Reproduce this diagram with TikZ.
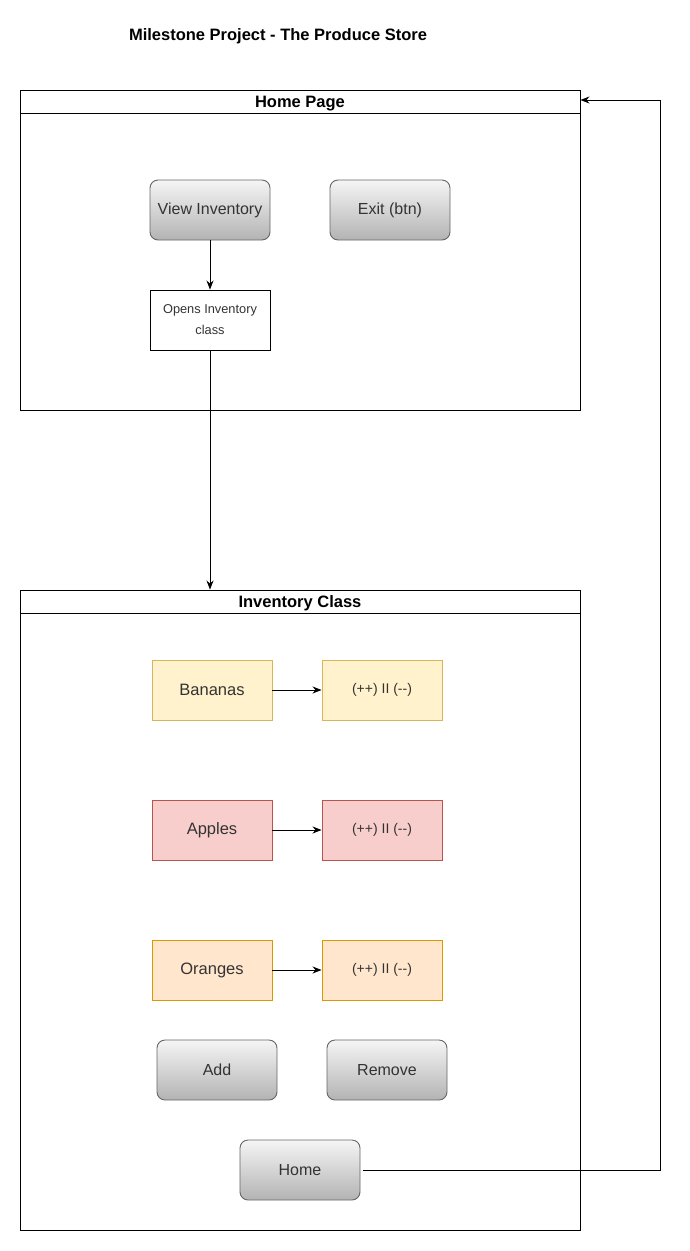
\documentclass[tikz,border=0pt]{standalone}
\usepackage{fontspec}
\setmainfont{Liberation Sans}
\usetikzlibrary{arrows.meta}

\definecolor{btnTop}{HTML}{F5F5F5}
\definecolor{btnBot}{HTML}{B3B3B3}
\definecolor{btnLine}{HTML}{666666}
\definecolor{txtGray}{HTML}{333333}
\definecolor{yelFill}{HTML}{FFF2CC}
\definecolor{yelLine}{HTML}{D6B656}
\definecolor{redFill}{HTML}{F8CECC}
\definecolor{redLine}{HTML}{B85450}
\definecolor{orgFill}{HTML}{FFE6CC}
\definecolor{orgLine}{HTML}{D79B00}

\begin{document}
\begin{tikzpicture}[x = 1pt, y = -1pt, line width = 0.9pt,
	btn/.style = {draw = btnLine, rounded corners = 8pt, top color = btnTop, bottom color = btnBot,
		minimum width = 120pt, minimum height = 60pt, text = txtGray, font = \fontsize{16}{19}\selectfont},
	plain/.style = {draw, minimum width = 120pt, minimum height = 60pt, align = center,
		font = \fontsize{12.8}{21}\selectfont, text = txtGray},
	fruit/.style = {draw = #1Line, fill = #1Fill, minimum width = 120pt, minimum height = 60pt,
		font = \fontsize{16.5}{19}\selectfont, text = txtGray},
	count/.style = {fruit = #1, font = \fontsize{14}{17}\selectfont},
	header/.style = {draw, minimum width = 560pt, minimum height = 23pt, inner sep = 0pt,
		text height = 12pt, text depth = 0pt, font = \bfseries\fontsize{16.5}{19}\selectfont},
	body/.style = {draw, minimum width = 560pt, anchor = north, inner sep = 0pt},
	arr/.style = {-{Stealth[length = 9pt, width = 7pt]}}]
	\useasboundingbox (0,0) rectangle (689,1251);

	\node[text height = 12pt, text depth = 0pt, font = \bfseries\fontsize{16.5}{19}\selectfont] (title) at (278,34) {Milestone Project - The Produce Store};

	% home page
	\node[header] (homehead) at (300,101.5) {Home Page};
	\node[body, minimum height = 297pt] (homebody) at (300,113) {};
	\node[btn] (view) at (210,210) {View Inventory};
	\node[btn] (exit) at (390,210) {Exit (btn)};
	\node[plain] (opens) at (210,320) {Opens Inventory\\class};
	\draw[arr] (view) -- (opens);

	% inventory class
	\node[header] (invhead) at (300,601.5) {Inventory Class};
	\node[body, minimum height = 617pt] (invbody) at (300,613) {};
	\draw[arr] (opens.south) -- (opens.south |- invhead.north);

	\foreach \fname/\fcol/\fy in {Bananas/yel/690, Apples/red/830, Oranges/org/970} {
		\node[fruit = \fcol] (\fname) at (212,\fy) {\fname};
		\node[count = \fcol] (\fname count) at (382,\fy) {(++) II ({-}{-})};
		\draw[arr] (\fname) -- (\fname count);
	}

	\node[btn] (add) at (217,1070) {Add};
	\node[btn] (remove) at (387,1070) {Remove};
	\node[btn] (homebtn) at (300,1170) {Home};

	% back to home page
	\coordinate (loop) at (660,1170);
	\draw[arr] ([xshift = 3pt]homebtn.east) -- (loop) |- ([yshift = 1.5pt]homehead.east);
\end{tikzpicture}
\end{document}
